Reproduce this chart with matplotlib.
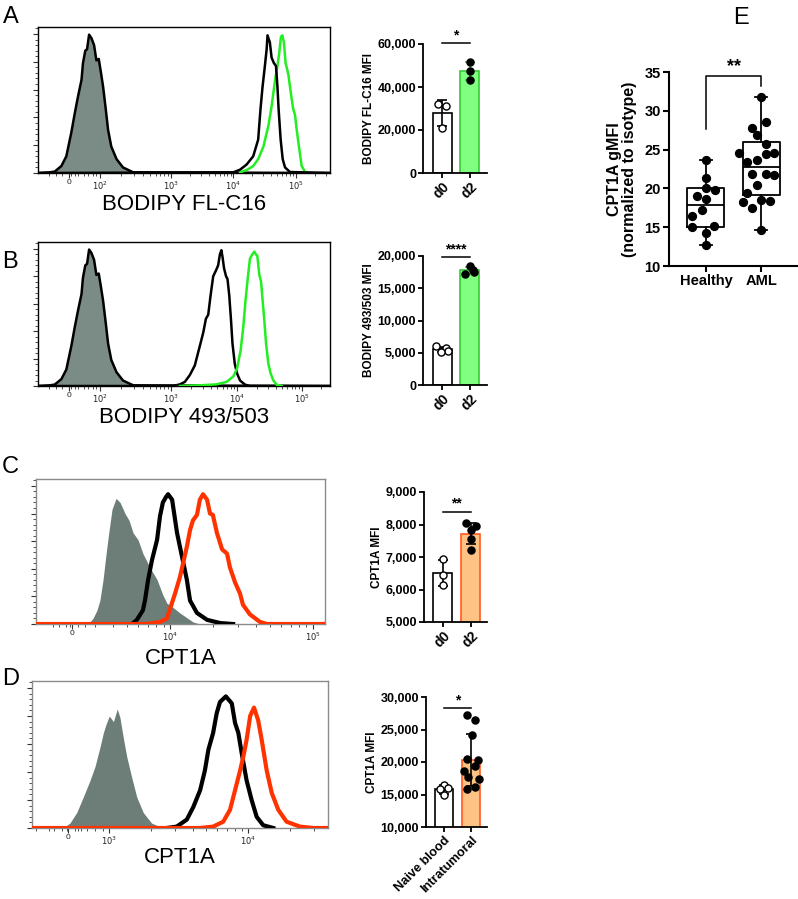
import matplotlib
matplotlib.use('Agg')
import matplotlib.pyplot as plt
import numpy as np
from matplotlib.ticker import FuncFormatter, MultipleLocator

plt.rcParams['font.family'] = ['Liberation Sans', 'DejaVu Sans']

# ---------------- data: flow histograms (channel 0-1000, % of max) ----------------
A_ticks = [106, 211, 457, 669, 883]
A_ticklabels = ['0', '$10^2$', '$10^3$', '$10^4$', '$10^5$']
A_gray_x = [0, 40, 57, 80, 97, 114, 126, 137, 149, 154, 162, 168, 175, 183, 192, 200, 208, 215, 223, 232, 240, 251, 269, 291, 326, 1000]
A_gray_y = [0, 0.5, 1, 5, 12, 29, 43, 55, 67, 79, 88, 89, 99.5, 97, 92, 81, 82, 73, 62, 46, 31, 19, 10, 4, 0.5, 0]
A_black_x = [0, 669, 692, 714, 737, 754, 762, 769, 777, 783, 786, 794, 800, 808, 815, 820, 824, 831, 838, 846, 863, 1000]
A_black_y = [0, 0.5, 2.4, 6, 12, 24, 46, 62, 77, 89, 99, 94, 83, 79, 77, 62, 46, 24, 10, 4, 0.7, 0]
A_green_x = [692, 714, 737, 754, 772, 789, 800, 812, 820, 826, 832, 837, 842, 848, 854, 858, 863, 869, 874, 880, 886, 895, 903, 914, 926]
A_green_y = [0.5, 2, 5, 10, 19, 34, 48, 67, 77, 86, 98, 99, 94, 79, 74, 70, 62, 53, 46, 42, 31, 17, 5, 1, 0.2]

B_ticks = [106, 211, 457, 682, 903]
B_ticklabels = ['0', '$10^2$', '$10^3$', '$10^4$', '$10^5$']
B_gray_x = A_gray_x
B_gray_y = A_gray_y
B_black_x = [0, 463, 486, 503, 520, 537, 554, 566, 575, 583, 591, 600, 609, 617, 623, 628, 632, 637, 644, 649, 655, 661, 666, 674, 682, 692, 709, 726, 1000]
B_black_y = [0, 0, 1.2, 3, 8, 15, 29, 39, 49, 52, 66, 80, 84, 88, 96, 99, 94, 86, 80, 78, 66, 48, 31, 16, 9, 4, 1, 0, 0]
B_green_x = [486, 554, 611, 646, 669, 682, 694, 703, 711, 719, 726, 734, 741, 746, 751, 758, 764, 769, 775, 781, 789, 797, 806, 817, 834]
B_green_y = [0, 0.5, 1.2, 3, 7, 13, 26, 43, 63, 80, 93, 96, 98, 96, 95, 81, 76, 63, 48, 31, 16, 9, 4, 1, 0]

C_ticks = [125, 464, 958]
C_ticklabels = ['0', '$10^4$', '$10^5$']
C_gray_x = [180, 197, 211, 221, 232, 242, 253, 263, 277, 291, 308, 322, 336, 353, 370, 394, 419, 439, 453, 474, 498, 543, 567]
C_gray_y = [0, 4, 10, 17, 32, 50, 68, 83, 91, 88, 80, 75, 66, 61, 51, 41, 32, 21, 15, 12, 8, 1.5, 0]
C_black_x = [332, 349, 370, 377, 388, 401, 419, 429, 439, 450, 457, 471, 488, 505, 522, 533, 557, 592, 637, 682]
C_black_y = [0, 3, 10, 17, 32, 46, 61, 78, 88, 92, 94, 90, 66, 49, 32, 17, 8, 3, 0.7, 0]
C_red_x = [0, 384, 429, 453, 481, 498, 509, 522, 533, 543, 557, 567, 578, 592, 602, 612, 626, 644, 661, 671, 689, 706, 716, 740, 775, 799, 1000]
C_red_y = [0, 0, 1.5, 4, 22, 34, 44, 56, 68, 75, 79, 90, 94, 90, 80, 79, 66, 54, 51, 41, 30, 22, 14, 7, 1.5, 0, 0]

D_ticks = [122, 260, 730]
D_ticklabels = ['0', '$10^3$', '$10^4$']
D_gray_x = [105, 128, 151, 173, 196, 213, 230, 241, 250, 261, 275, 288, 297, 308, 320, 337, 354, 376, 404, 443]
D_gray_y = [0, 3.5, 11, 22, 34, 44, 58, 68, 74, 80, 76, 85, 79, 65, 51, 36, 22, 11, 3.5, 0]
D_black_x = [455, 489, 523, 545, 568, 584, 596, 612, 624, 635, 655, 675, 686, 697, 708, 725, 742, 759, 781, 815]
D_black_y = [0, 1, 6, 15, 27, 41, 56, 68, 82, 90, 94, 89, 75, 68, 54, 34, 20, 8, 2, 0]
D_red_x = [0, 568, 612, 646, 669, 686, 703, 714, 725, 737, 750, 764, 776, 793, 810, 832, 860, 905, 950, 1000]
D_red_y = [0, 0, 1, 4.5, 13, 27, 41, 51, 63, 80, 86, 77, 63, 41, 25, 13, 4.5, 1, 0, 0]

# ---------------- data: bar charts ----------------
A_cats = ['d0', 'd2']
A_vals = [[32000, 31000, 20700], [51800, 47300, 43100]]
A_dx = [[-0.14, 0.13, 0.0], [0.0, 0.0, 0.0]]
A_sig = '*'

B_cats = ['d0', 'd2']
B_vals = [[6050, 5700, 5300, 5150], [17270, 18500, 17900, 17530]]
B_dx = [[-0.2, 0.15, 0.2, -0.03], [-0.17, 0.0, 0.1, 0.15]]
B_sig = '****'

C_cats = ['d0', 'd2']
C_vals = [[6930, 6460, 6150], [8050, 7950, 7830, 7540, 7230]]
C_dx = [[0.0, 0.0, 0.0], [-0.18, 0.18, 0.0, 0.0, 0.0]]
C_sig = '**'

D_cats = ['Naive blood', 'Intratumoral']
D_vals = [[16400, 16000, 15850, 14850],
          [27230, 26460, 24100, 20460, 20260, 18640, 19370, 17670, 17350, 16220, 15860]]
D_dx = [[0.0, 0.13, -0.15, 0.0],
        [-0.15, 0.15, 0.02, -0.14, 0.26, -0.28, 0.14, -0.12, 0.3, 0.16, -0.15]]
D_sig = '*'

# ---------------- data: panel E box plot ----------------
E_cats = ['Healthy', 'AML']
E_healthy = [23.6, 21.3, 20.1, 19.8, 19.0, 18.6, 17.2, 16.5, 15.0, 15.1, 14.2, 12.7]
E_healthy_dx = [0.0, 0.0, 0.0, 0.16, -0.17, 0.0, -0.08, -0.25, -0.25, 0.15, 0.0, 0.0]
E_aml = [31.8, 28.5, 27.8, 26.9, 25.7, 24.5, 24.6, 24.4, 23.6, 23.4, 21.9, 21.8, 21.7, 20.5, 19.4, 18.5, 18.4, 18.2, 17.5, 14.6]
E_aml_dx = [0.0, 0.08, -0.16, -0.08, 0.08, -0.41, 0.24, 0.08, -0.08, -0.25, 0.08, -0.16, 0.24, -0.08, -0.25, 0.0, 0.16, -0.32, -0.16, 0.0]
E_q1 = [15.0, 19.2]
E_med = [17.9, 22.8]
E_q3 = [20.0, 26.0]
E_sig = '**'

# ---------------- figure ----------------
W, H = 798, 899
fig = plt.figure(figsize=(W / 100, H / 100), dpi=100)


def ax_px(l, t, r, b):
    return fig.add_axes([l / W, 1 - b / H, (r - l) / W, (b - t) / H])


GRAY_AB = '#7b8b86'
GRAY_CD = '#6d7d78'
GREEN = '#22ee22'
RED = '#ff3300'


def minor_positions(ticks, labels):
    dec = [t for t, l in zip(ticks, labels) if l != '0']
    out = []
    n = len(dec)
    for i in range(n + 1):
        if i == 0:
            p0, p1 = dec[0] - (dec[1] - dec[0]), dec[0]
        elif i == n:
            p0, p1 = dec[-1], dec[-1] + (dec[-1] - dec[-2])
        else:
            p0, p1 = dec[i - 1], dec[i]
        for m in range(2, 10):
            v = p0 + np.log10(m) * (p1 - p0)
            if 0 < v < 1000:
                out.append(v)
    z = ticks[0]
    for k in (-3, -2, -1, 1, 2):
        v = z + k * 22
        if 0 < v < 1000 and all(abs(v - o) > 8 for o in out):
            out.append(v)
    return out


def hist_style(ax, ticks, labels, frame):
    ax.set_xlim(0, 1000)
    ax.set_ylim(0, 105)
    ax.set_xticks(ticks)
    ax.set_xticklabels(labels, fontsize=6, color='#222222')
    ax.set_xticks(minor_positions(ticks, labels), minor=True)
    ax.set_yticks(range(0, 101, 20))
    ax.set_yticklabels([])
    ax.yaxis.set_minor_locator(MultipleLocator(4))
    ax.tick_params(which='major', length=3.5, width=0.8, direction='out', pad=1, color='#333333')
    ax.tick_params(which='minor', length=2, width=0.6, color='#333333')
    for s in ax.spines.values():
        s.set_color(frame)
        s.set_linewidth(1.0)


# Panel A histogram
ax = ax_px(38, 27, 330, 173)
ax.fill_between(A_gray_x, A_gray_y, color=GRAY_AB, lw=0, zorder=1)
ax.plot(A_gray_x, A_gray_y, color='k', lw=1.8, zorder=2)
ax.plot(A_green_x, A_green_y, color=GREEN, lw=1.8, zorder=3)
ax.plot(A_black_x, A_black_y, color='k', lw=1.8, zorder=4)
hist_style(ax, A_ticks, A_ticklabels, 'k')
ax.set_xlabel('BODIPY FL-C16', fontsize=16, labelpad=2)

# Panel B histogram
ax = ax_px(38, 242, 330, 386)
ax.fill_between(B_gray_x, B_gray_y, color=GRAY_AB, lw=0, zorder=1)
ax.plot(B_gray_x, B_gray_y, color='k', lw=1.8, zorder=2)
ax.plot(B_black_x, B_black_y, color='k', lw=1.8, zorder=3)
ax.plot(B_green_x, B_green_y, color=GREEN, lw=1.8, zorder=4)
hist_style(ax, B_ticks, B_ticklabels, 'k')
ax.set_xlabel('BODIPY 493/503', fontsize=16, labelpad=2)

# Panel C histogram
ax = ax_px(36, 479, 325, 624)
ax.fill_between(C_gray_x, C_gray_y, color=GRAY_CD, lw=0, zorder=1)
ax.plot(C_black_x, C_black_y, color='k', lw=3, zorder=3)
ax.plot(C_red_x, C_red_y, color=RED, lw=3, zorder=4)
hist_style(ax, C_ticks, C_ticklabels, '#8a8a8a')
ax.set_xlabel('CPT1A', fontsize=16, labelpad=4)

# Panel D histogram
ax = ax_px(32, 681, 328, 828)
ax.fill_between(D_gray_x, D_gray_y, color=GRAY_CD, lw=0, zorder=1)
ax.plot(D_black_x, D_black_y, color='k', lw=3, zorder=3)
ax.plot(D_red_x, D_red_y, color=RED, lw=3, zorder=4)
hist_style(ax, D_ticks, D_ticklabels, '#8a8a8a')
ax.set_xlabel('CPT1A', fontsize=16, labelpad=0)


# ---------------- bar panels ----------------
def bar_panel(rect, cats, vals, dxs, ylim, yticks, ylabel, fill2, edge2, err2, sig, sig_y, xlim, xfs=10):
    ax = ax_px(*rect)
    fills = ['white', fill2]
    edges = ['k', edge2]
    errc = ['k', err2]
    for i, (v, dx) in enumerate(zip(vals, dxs)):
        v = np.array(v, float)
        m = v.mean()
        s = v.std(ddof=1)
        ax.bar(i, m, width=0.68, color=fills[i], edgecolor=edges[i], linewidth=1.2, zorder=2)
        ax.errorbar(i, m, yerr=s, color=errc[i], capsize=3.5, lw=1.2, capthick=1.2, zorder=3)
        ax.scatter(i + np.array(dx), v, s=26,
                   facecolor='white' if i == 0 else 'black', edgecolor='black',
                   linewidth=1.0, zorder=4, clip_on=False)
    ax.set_xlim(*xlim)
    ax.set_ylim(*ylim)
    ax.set_yticks(yticks)
    ax.yaxis.set_major_formatter(FuncFormatter(lambda v, p: f'{v:,.0f}'))
    ax.set_xticks(range(len(cats)))
    ax.set_xticklabels(cats, rotation=45, ha='right', rotation_mode='anchor', fontsize=xfs, fontweight='bold')
    for lab in ax.get_yticklabels():
        lab.set_fontweight('bold')
        lab.set_fontsize(9)
    ax.set_ylabel(ylabel, fontsize=8.5, fontweight='bold', labelpad=2)
    for side in ('top', 'right'):
        ax.spines[side].set_visible(False)
    for side in ('left', 'bottom'):
        ax.spines[side].set_linewidth(1.3)
    ax.tick_params(length=3.5, width=1.3, pad=1.5)
    ax.plot([0, 1], [sig_y, sig_y], color='k', lw=1.1, clip_on=False)
    ax.annotate(sig, (0.5, sig_y), xytext=(0, 0.5), textcoords='offset points',
                ha='center', va='bottom', fontsize=10, fontweight='bold', annotation_clip=False)
    return ax


bar_panel((423, 44, 487, 173), A_cats, A_vals, A_dx, (0, 60000), [0, 20000, 40000, 60000],
          'BODIPY FL-C16 MFI', '#80ff80', '#33cc33', '#33cc33', A_sig, 60500, (-0.68, 1.61))
bar_panel((423, 256, 487, 385), B_cats, B_vals, B_dx, (0, 20000), [0, 5000, 10000, 15000, 20000],
          'BODIPY 493/503 MFI', '#80ff80', '#33cc33', '#33cc33', B_sig, 19800, (-0.68, 1.61))
bar_panel((424, 492, 487, 622), C_cats, C_vals, C_dx, (5000, 9000), [5000, 6000, 7000, 8000, 9000],
          'CPT1A MFI', '#ffc285', '#ff5a1f', 'k', C_sig, 8400, (-0.68, 1.59))
bar_panel((426, 697, 487, 827), D_cats, D_vals, D_dx, (10000, 30000), [10000, 15000, 20000, 25000, 30000],
          'CPT1A MFI', '#ffc285', '#ff5a1f', 'k', D_sig, 28300, (-0.67, 1.59), xfs=9.2)

# ---------------- panel E ----------------
ax = ax_px(669, 72, 797, 266)
groups = [E_healthy, E_aml]
stats = []
for i, g in enumerate(groups):
    stats.append(dict(med=E_med[i], q1=E_q1[i], q3=E_q3[i], whislo=min(g), whishi=max(g), fliers=[]))
ax.bxp(stats, positions=[0, 1], widths=0.67, showfliers=False, capwidths=[0.22, 0.22],
       boxprops=dict(lw=1.3, color='k'), whiskerprops=dict(lw=1.3, color='k'),
       capprops=dict(lw=1.3, color='k'), medianprops=dict(lw=1.3, color='k'))
ax.scatter(np.array(E_healthy_dx), E_healthy, s=32, color='k', zorder=4, clip_on=False)
ax.scatter(1 + np.array(E_aml_dx), E_aml, s=32, color='k', zorder=4, clip_on=False)
ax.set_xlim(-0.67, 1.65)
ax.set_ylim(10, 35)
ax.set_yticks([10, 15, 20, 25, 30, 35])
ax.set_xticks([0, 1])
ax.set_xticklabels(E_cats, fontsize=10.5, fontweight='bold')
for lab in ax.get_yticklabels():
    lab.set_fontweight('bold')
    lab.set_fontsize(10.5)
ax.set_ylabel('CPT1A gMFI\n(normalized to isotype)', fontsize=11.5, fontweight='bold', labelpad=5, linespacing=1.0)
for side in ('top', 'right'):
    ax.spines[side].set_visible(False)
for side in ('left', 'bottom'):
    ax.spines[side].set_linewidth(1.5)
ax.tick_params(length=4, width=1.5, pad=2)
ax.plot([0, 0, 1, 1], [27.7, 34.5, 34.5, 33.2], color='k', lw=1.1, clip_on=False)
ax.text(0.5, 34.6, E_sig, ha='center', va='bottom', fontsize=13, fontweight='bold')

# ---------------- panel letters ----------------
for letter, x, y in [('A', 3, 23), ('B', 2, 268), ('C', 2, 473), ('D', 2, 685), ('E', 733, 24)]:
    fig.text(x / W, 1 - y / H, letter, fontsize=17, va='baseline', ha='left')

fig.savefig('out.png', dpi=100)
